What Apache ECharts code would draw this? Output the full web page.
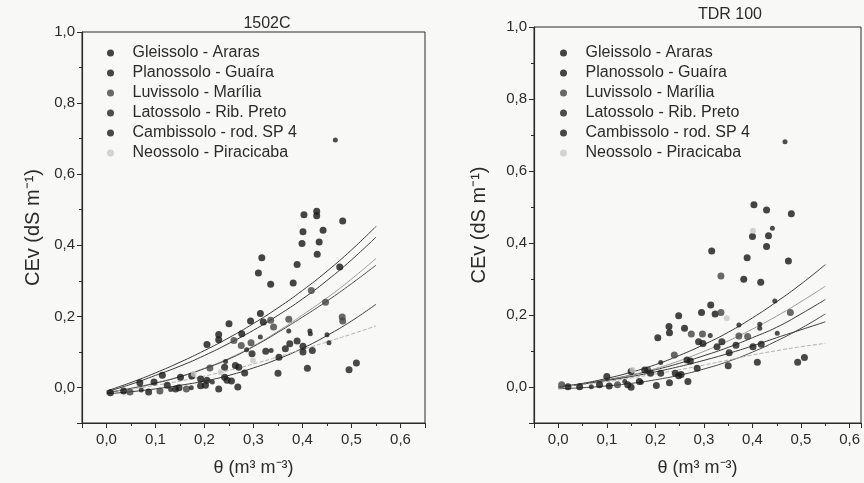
<!DOCTYPE html>
<html>
<head>
<meta charset="utf-8">
<script src="https://cdn.jsdelivr.net/npm/echarts@6/dist/echarts.min.js"></script>
<style>
  html, body { margin: 0; padding: 0; background: #f8f8f6; }
  #chart { width: 864px; height: 483px; }
</style>
</head>
<body>
<div id="chart"></div>
<script>
// Soil names (legend order)
const soils = [
  'Gleissolo - Araras',
  'Planossolo - Guaíra',
  'Luvissolo - Marília',
  'Latossolo - Rib. Preto',
  'Cambissolo - rod. SP 4',
  'Neossolo - Piracicaba'
];
const panelTitles = ['1502C', 'TDR 100'];

// Measured points [theta, CEv] — sensor 1502C
const g1502 = [[0.008,-0.015],[0.068,0.013],[0.114,0.034],[0.174,0.032],[0.205,0.121],[0.250,0.179],[0.276,0.151],[0.314,0.208],[0.317,0.365],[0.335,0.290],[0.389,0.346],[0.403,0.486],[0.429,0.496],[0.434,0.409],[0.482,0.468]];
const p1502 = [[0.035,-0.010],[0.097,0.015],[0.151,0.029],[0.192,0.024],[0.229,0.149],[0.229,0.134],[0.294,0.187],[0.310,0.322],[0.320,0.184],[0.381,0.294],[0.401,0.438],[0.399,0.405],[0.429,0.483],[0.442,0.442],[0.430,0.375],[0.476,0.339]];
const lv1502 = [[0.048,-0.013],[0.109,-0.010],[0.163,-0.004],[0.211,0.055],[0.260,0.132],[0.275,0.118],[0.295,0.126],[0.335,0.189],[0.341,0.170],[0.372,0.192],[0.418,0.273],[0.447,0.240],[0.481,0.198],[0.482,0.187]];
const lt1502 = [[0.071,-0.007],[0.131,-0.006],[0.173,-0.001],[0.216,0.015],[0.243,0.073],[0.286,0.106],[0.314,0.142],[0.372,0.159],[0.415,0.159],[0.416,0.151],[0.450,0.148],[0.454,0.126],[0.467,0.696],[0.336,0.104]];
const c1502 = [[0.086,-0.013],[0.124,0.006],[0.141,-0.004],[0.148,-0.001],[0.192,0.005],[0.202,0.006],[0.205,0.020],[0.229,-0.004],[0.241,0.057],[0.241,0.029],[0.246,0.020],[0.255,0.018],[0.263,0.062],[0.268,0.001],[0.270,0.057],[0.282,0.041],[0.297,0.095],[0.325,0.102],[0.350,0.040],[0.352,0.085],[0.365,0.109],[0.374,0.123],[0.389,0.131],[0.401,0.116],[0.401,0.100],[0.410,0.054],[0.420,0.104],[0.495,0.050],[0.510,0.069]];
const n1502 = [[0.178,0.038],[0.233,0.043],[0.299,0.076]];

// Measured points [theta, CEv] — sensor TDR 100
const gTdr = [[0.020,0.001],[0.085,0.006],[0.150,0.043],[0.205,0.137],[0.248,0.198],[0.316,0.378],[0.323,0.203],[0.389,0.359],[0.403,0.506],[0.429,0.492],[0.480,0.481],[0.474,0.350]];
const pTdr = [[0.044,0.001],[0.105,0.003],[0.167,0.015],[0.228,0.168],[0.229,0.151],[0.260,0.163],[0.295,0.207],[0.314,0.228],[0.382,0.299],[0.400,0.418],[0.433,0.420],[0.429,0.390],[0.417,0.291]];
const lvTdr = [[0.007,0.006],[0.122,0.006],[0.184,0.047],[0.274,0.147],[0.297,0.147],[0.335,0.308],[0.335,0.207],[0.372,0.142],[0.390,0.140],[0.478,0.207],[0.239,0.089]];
const ltTdr = [[0.068,0.001],[0.137,0.015],[0.171,0.013],[0.211,0.068],[0.313,0.143],[0.372,0.172],[0.415,0.174],[0.415,0.163],[0.441,0.441],[0.446,0.239],[0.451,0.149],[0.467,0.681]];
const cTdr = [[0.100,0.029],[0.143,0.006],[0.150,-0.001],[0.178,0.047],[0.190,0.038],[0.202,0.004],[0.211,0.038],[0.229,0.012],[0.241,0.038],[0.248,0.031],[0.253,0.035],[0.265,0.075],[0.267,0.015],[0.272,0.072],[0.286,0.052],[0.289,0.126],[0.298,0.121],[0.327,0.112],[0.337,0.126],[0.350,0.059],[0.352,0.095],[0.366,0.116],[0.401,0.112],[0.410,0.069],[0.418,0.119],[0.493,0.069],[0.507,0.082]];
const nTdr = [[0.347,0.191],[0.401,0.434],[0.153,0.047]];

// Fitted curves, sampled at these theta values
const thetaFit = [0, 0.05, 0.10, 0.15, 0.20, 0.25, 0.30, 0.35, 0.40, 0.45, 0.50, 0.55];
const fit1502G  = [-0.010, 0.014, 0.041, 0.071, 0.104, 0.140, 0.180, 0.224, 0.273, 0.327, 0.387, 0.453];
const fit1502P  = [-0.012, 0.009, 0.034, 0.060, 0.090, 0.124, 0.161, 0.203, 0.249, 0.301, 0.359, 0.423];
const fit1502Lv = [-0.015, -0.002, 0.013, 0.031, 0.054, 0.082, 0.117, 0.158, 0.204, 0.252, 0.305, 0.363];
const fit1502C  = [-0.015, -0.003, 0.012, 0.030, 0.053, 0.080, 0.115, 0.155, 0.198, 0.243, 0.292, 0.344];
const fit1502Lt = [-0.018, -0.012, -0.004, 0.006, 0.018, 0.034, 0.055, 0.080, 0.110, 0.146, 0.187, 0.234];
const fit1502N  = [-0.012, -0.004, 0.006, 0.018, 0.032, 0.048, 0.066, 0.086, 0.107, 0.128, 0.150, 0.173];

const fitTdrG  = [0.000, 0.010, 0.024, 0.041, 0.062, 0.088, 0.118, 0.152, 0.192, 0.237, 0.286, 0.340];
const fitTdrLv = [0.000, 0.008, 0.019, 0.033, 0.051, 0.073, 0.099, 0.128, 0.161, 0.197, 0.237, 0.280];
const fitTdrP  = [0.000, 0.009, 0.020, 0.033, 0.048, 0.066, 0.087, 0.110, 0.137, 0.166, 0.203, 0.243];
const fitTdrC  = [-0.005, -0.002, 0.003, 0.010, 0.020, 0.033, 0.050, 0.071, 0.097, 0.128, 0.163, 0.203];
const fitTdrLt = [0.000, 0.008, 0.018, 0.029, 0.042, 0.057, 0.074, 0.093, 0.114, 0.137, 0.159, 0.181];
const fitTdrN  = [0.000, 0.007, 0.015, 0.025, 0.036, 0.048, 0.061, 0.075, 0.089, 0.101, 0.112, 0.121];

const FONT = 'Liberation Sans, Arial, sans-serif';
const INK = '#2b2b2b';

// Marker styles per soil
const markerStyle = [
  { color: '#161616', size: 7 },
  { color: '#161616', size: 7 },
  { color: '#444444', size: 7 },
  { color: '#222222', size: 5 },
  { color: '#1c1c1c', size: 7 },
  { color: '#c8c8c8', size: 6 }
];
// Curve styles per soil
const curveStyle = [
  { color: '#3a3a3a', type: 'solid' },
  { color: '#3a3a3a', type: 'solid' },
  { color: '#9a9a9a', type: 'solid' },
  { color: '#4a4a4a', type: 'solid' },
  { color: '#3a3a3a', type: 'solid' },
  { color: '#b0b0b0', type: 'dashed' }
];

const pointsByPanel = [
  [g1502, p1502, lv1502, lt1502, c1502, n1502],
  [gTdr, pTdr, lvTdr, ltTdr, cTdr, nTdr]
];
const curvesByPanel = [
  [fit1502G, fit1502P, fit1502Lv, fit1502C, fit1502Lt, fit1502N],
  [fitTdrG, fitTdrP, fitTdrLv, fitTdrC, fitTdrLt, fitTdrN]
];
// Which soil each curve row belongs to (index into soils)
const curveSoil = [
  [0, 1, 2, 4, 3, 5],
  [0, 1, 2, 4, 3, 5]
];

const comma = (v, d) => v.toFixed(d).replace('.', ',');
const isStep = (v, step) => Math.abs(v / step - Math.round(v / step)) < 1e-6;

// The TDR 100 frame runs past the page edge, so its axis stops a bit earlier
const xMax = [0.65, 0.6235];

function xAxisFor(i, gap) {
  return {
    type: 'value', gridIndex: i, min: -0.05, max: xMax[i], splitNumber: 7,
    name: 'θ (m³ m⁻³)', nameLocation: 'middle', nameGap: gap,
    nameTextStyle: { fontFamily: FONT, fontSize: 18, color: INK },
    axisLine: { onZero: false, lineStyle: { color: INK, width: 1.2 } },
    axisTick: { length: 5, lineStyle: { color: INK } },
    minorTick: { show: true, splitNumber: 2, length: 3, lineStyle: { color: INK } },
    splitLine: { show: false },
    axisLabel: {
      fontFamily: FONT, fontSize: 15, color: INK, margin: 9,
      formatter: v => (v >= -1e-9 && isStep(v, 0.1)) ? comma(v, 1) : ''
    }
  };
}
function yAxisFor(i, gap) {
  return {
    type: 'value', gridIndex: i, min: -0.1, max: 1.0, splitNumber: 5,
    name: 'CEv (dS m⁻¹)', nameLocation: 'middle', nameGap: gap,
    nameTextStyle: { fontFamily: FONT, fontSize: 20, color: INK },
    axisLine: { show: true, onZero: false, lineStyle: { color: INK, width: 1.2 } },
    axisTick: { show: true, length: 5, lineStyle: { color: INK } },
    minorTick: { show: true, splitNumber: 2, length: 3, lineStyle: { color: INK } },
    splitLine: { show: false },
    axisLabel: {
      fontFamily: FONT, fontSize: 15, color: INK, margin: 7,
      formatter: v => (v >= -1e-9 && isStep(v, 0.2)) ? comma(v, 1) : ''
    }
  };
}

const series = [];
for (let p = 0; p < 2; p++) {
  pointsByPanel[p].forEach((pts, k) => {
    series.push({
      type: 'scatter', name: soils[k], xAxisIndex: p, yAxisIndex: p,
      data: pts, symbol: 'circle', symbolSize: markerStyle[k].size,
      itemStyle: { color: markerStyle[k].color }, z: 3
    });
  });
}
for (let p = 0; p < 2; p++) {
  curvesByPanel[p].forEach((ys, k) => {
    const s = curveSoil[p][k];
    series.push({
      type: 'line', name: soils[s], xAxisIndex: p, yAxisIndex: p,
      data: thetaFit.map((t, j) => [t, ys[j]]),
      smooth: true, showSymbol: false, symbol: 'none',
      lineStyle: { color: curveStyle[k].color, width: 1, type: curveStyle[k].type },
      itemStyle: { color: curveStyle[k].color }, z: 2
    });
  });
}

function legendFor(left) {
  return {
    orient: 'vertical', left: left, top: 38, itemGap: 0,
    itemWidth: 34, itemHeight: 7, icon: 'circle',
    textStyle: { fontFamily: FONT, fontSize: 16, color: INK, lineHeight: 20 },
    data: soils.map((n, k) => ({ name: n, itemStyle: { color: markerStyle[k].color } })),
    selectedMode: false
  };
}

const chart = echarts.init(document.getElementById('chart'), null, { renderer: 'canvas' });
chart.setOption({
  backgroundColor: '#f8f8f6',
  animation: false,
  title: [
    { text: panelTitles[0], left: 262, top: 11, textAlign: 'center',
      textStyle: { fontFamily: FONT, fontSize: 16, fontWeight: 'normal', color: INK } },
    { text: panelTitles[1], left: 725, top: 2, textAlign: 'center',
      textStyle: { fontFamily: FONT, fontSize: 16, fontWeight: 'normal', color: INK } }
  ],
  grid: [
    { left: 82, top: 32, width: 343, height: 391, show: true, borderColor: INK, borderWidth: 1, backgroundColor: 'transparent' },
    { left: 534, top: 27, width: 330, height: 396, show: true, borderColor: INK, borderWidth: 1, backgroundColor: 'transparent' }
  ],
  xAxis: [xAxisFor(0, 36), xAxisFor(1, 36)],
  yAxis: [yAxisFor(0, 39), yAxisFor(1, 45)],
  legend: [legendFor(102), legendFor(555)],
  series: series
});
</script>
</body>
</html>
